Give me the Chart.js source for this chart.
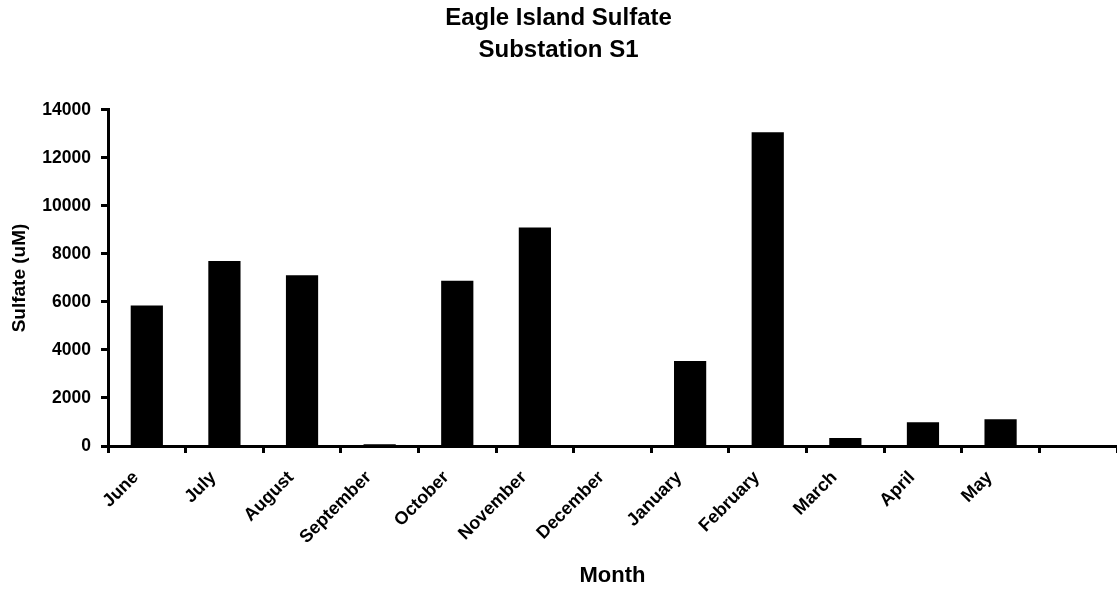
<!DOCTYPE html>
<html>
<head>
<meta charset="utf-8">
<script src="https://cdn.jsdelivr.net/npm/chart.js@4"></script>
<style>
  html, body { margin: 0; padding: 0; background: #fff; }
  #wrap { width: 1117px; height: 592px; position: relative; }
</style>
</head>
<body>
<div id="wrap"><canvas id="c" width="1117" height="592"></canvas></div>
<script>
const titleLines = ['Eagle Island Sulfate', 'Substation S1'];
const months = ['June', 'July', 'August', 'September', 'October', 'November', 'December', 'January', 'February', 'March', 'April', 'May', ''];
const sulfate = [5850, 7710, 7110, 70, 6880, 9100, 0, 3545, 13070, 330, 990, 1115, null];
const yTicks = [0, 2000, 4000, 6000, 8000, 10000, 12000, 14000];
const xTitle = 'Month';
const yTitle = 'Sulfate (uM)';

const FAMILY = "'Liberation Sans', Arial, Helvetica, sans-serif";

new Chart(document.getElementById('c'), {
  type: 'bar',
  data: {
    labels: months,
    datasets: [{
      data: sulfate,
      backgroundColor: '#000',
      borderWidth: 0,
      barPercentage: 0.415,
      categoryPercentage: 1.0
    }]
  },
  options: {
    responsive: false,
    animation: false,
    devicePixelRatio: 1,
    layout: { padding: 0 },
    plugins: {
      legend: { display: false },
      tooltip: { enabled: false },
      title: {
        display: true,
        text: titleLines,
        color: '#000',
        font: { family: FAMILY, size: 24, weight: 'bold', lineHeight: 1.333 },
        padding: { top: 2, bottom: 44 }
      }
    },
    scales: {
      x: {
        type: 'category',
        offset: true,
        grid: {
          offset: true,
          drawOnChartArea: false,
          drawTicks: true,
          tickLength: 7,
          tickWidth: 3,
          tickColor: '#000'
        },
        border: { display: true, color: '#000', width: 3 },
        ticks: {
          color: '#000',
          font: { family: FAMILY, size: 18, weight: 'bold' },
          minRotation: 45,
          maxRotation: 45,
          autoSkip: false,
          padding: 14,
          labelOffset: -11
        },
        title: {
          display: true,
          text: xTitle,
          color: '#000',
          font: { family: FAMILY, size: 22, weight: 'bold', lineHeight: 1.2 },
          padding: { top: 0, bottom: 3 }
        },
        afterFit(scale) { scale.height = 146; }
      },
      y: {
        min: 0,
        max: 14000,
        afterBuildTicks(scale) { scale.ticks = yTicks.map(v => ({ value: v })); },
        grid: {
          drawOnChartArea: false,
          drawTicks: true,
          tickLength: 7,
          tickWidth: 3,
          tickColor: '#000'
        },
        border: { display: true, color: '#000', width: 3 },
        ticks: {
          color: '#000',
          font: { family: FAMILY, size: 17.5, weight: 'bold' },
          padding: 10,
          callback: (v) => String(v)
        },
        title: {
          display: true,
          text: yTitle,
          color: '#000',
          font: { family: FAMILY, size: 19, weight: 'bold', lineHeight: 1.2 },
          padding: { top: 8, bottom: 0 }
        },
        afterFit(scale) { scale.width = 108; }
      }
    }
  }
});
</script>
</body>
</html>
